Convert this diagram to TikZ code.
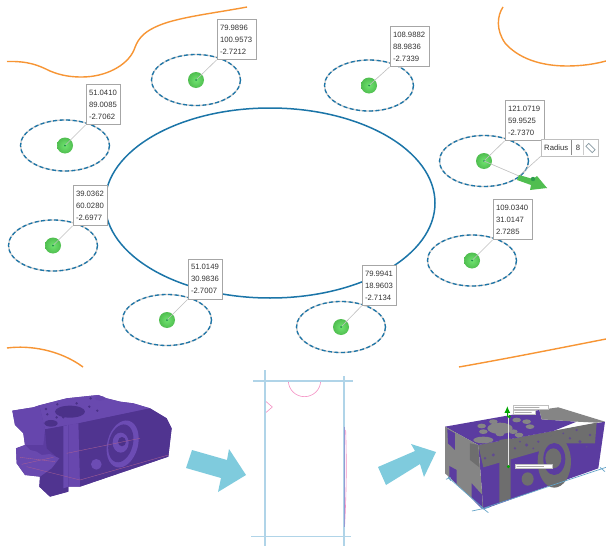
\documentclass[tikz,border=0pt]{standalone}
\usepackage{fontspec}
\setmainfont{Liberation Sans}
\usetikzlibrary{arrows.meta}
\definecolor{ringblue}{HTML}{1B75A8}
\definecolor{orangeline}{HTML}{F79534}
\definecolor{teal}{HTML}{7FCBDD}
\definecolor{guide}{HTML}{B0D4E8}
\definecolor{pinkline}{HTML}{F590C4}
\definecolor{pur}{HTML}{5B3CA0}
\definecolor{purl}{HTML}{7453BC}
\definecolor{purd}{HTML}{4B3189}
\definecolor{gmesh}{HTML}{6E6E6E}
\definecolor{gmeshl}{HTML}{858585}
\definecolor{ballin}{HTML}{70E470}
\definecolor{ballout}{HTML}{50BE50}
\definecolor{ballmid}{HTML}{1E8E4A}
\tikzset{
 x=1pt,y=-1pt,
 ring/.style={draw=ringblue,line width=1.5pt},
 dashring/.style={draw=ringblue,line width=1.3pt,dash pattern=on 4pt off 2.5pt},
 dashback/.style={draw=black!20,line width=1.3pt},
 orangecurve/.style={draw=orangeline,line width=1.4pt},
 coord/.style={draw=black!35,fill=white,line width=.8pt,align=left,text width=#1,font=\fontsize{7.7}{12}\selectfont,inner xsep=3pt,inner ysep=2pt,minimum height=40pt,text=black!80},
 lead/.style={draw=black!25,line width=.6pt},
 sphere/.style={circle,minimum size=16pt,inner sep=0pt,shade,inner color=ballin,outer color=ballout},
 bigarrow/.style={fill=teal,draw=none},
 guideline/.style={draw=guide,line width=1.2pt},
 pinkl/.style={draw=pinkline,line width=.6pt},
}
\begin{document}
\begin{tikzpicture}
\useasboundingbox (0,0) rectangle (606,546);
\fill[white] (0,0) rectangle (606,546);
% orange curves
\draw[orangecurve] (7,61.5) .. controls (28,61) and (38,65) .. (50,71) .. controls (62,76) and (72,77) .. (82,77) .. controls (105,77) and (127,66) .. (134,50) .. controls (137,42) and (140,33) .. (160,25) .. controls (180,17) and (215,13) .. (247,7);
\draw[orangecurve] (503,7) .. controls (497,16) and (496,30) .. (505,43) .. controls (518,58) and (540,66) .. (567,66) .. controls (582,66) and (595,64) .. (606,61);
\draw[orangecurve] (7,348) .. controls (30,345) and (60,350) .. (83,367);
\draw[orangecurve] (459,367) .. controls (510,358) and (560,348) .. (606,339);
% big ellipse
\draw[ring] (270,203) ellipse [x radius=165,y radius=95];
% rings
\foreach \cx/\cy in {65/145.5,196/80,369/85.5,484/161,472/260.5,341/327,167/320,53/245.5}{
  \draw[dashback] (\cx,\cy) ellipse [x radius=44.5,y radius=25.5];
  \draw[dashring] (\cx,\cy) ellipse [x radius=44.5,y radius=25.5];
}
% labels
\node[coord=28pt] (l1) at (103,104.5) {51.0410\\89.0085\\-2.7062};
\node[coord=33pt] (l2) at (236.5,39.5) {79.9896\\100.9573\\-2.7212};
\node[coord=33pt] (l3) at (409.5,46.5) {108.9882\\88.9836\\-2.7339};
\node[coord=33pt] (l4) at (524.5,120.5) {121.0719\\59.9525\\-2.7370};
\node[coord=33pt] (l5) at (512.5,219.5) {109.0340\\31.0147\\2.7285};
\node[coord=28pt] (l6) at (379,285.5) {79.9941\\18.9603\\-2.7134};
\node[coord=28pt] (l7) at (205,279) {51.0149\\30.9836\\-2.7007};
\node[coord=28pt] (l8) at (90,205.5) {39.0362\\60.0280\\-2.6977};
% spheres
\coordinate (tip) at (547,188);
\node[sphere] (s1) at (65,145.5) {};
\node[sphere] (s2) at (196,80) {};
\node[sphere] (s3) at (369,85.5) {};
\node[sphere] (s4) at (484,161) {};
\node[sphere] (s5) at (472,260.5) {};
\node[sphere] (s6) at (341,327) {};
\node[sphere] (s7) at (167,320) {};
\node[sphere] (s8) at (53,245.5) {};
\foreach \i in {1,...,8}{\draw[lead] (s\i.center) -- (l\i.south west);
 \fill[ballmid] (s\i.center) circle (1pt);}
\draw[lead] (s4.center) -- (tip);
% arrow handle
\fill[ballout] (519,175) -- (533,179) -- (537,176) -- (547,188) -- (530,190) -- (531,185) -- (517,180) -- cycle;
\fill[ballmid!70!ballout] (533,179) circle (2.2);
% radius box
\node[draw=black!25,fill=white,line width=.6pt,minimum height=17pt,minimum width=57pt,inner sep=0pt] (rad) at (569.5,147.5) {};
\node[font=\fontsize{7.7}{9}\selectfont,text=black!80,anchor=west,inner sep=0pt] (radt) at (544,147.5) {Radius};
\node[font=\fontsize{7.7}{9}\selectfont,text=black!80,inner sep=0pt] (radv) at (578,147.5) {8};
\draw[black!45,line width=.8pt] (571,140) -- (571,155);
\draw[black!20,line width=.5pt] (583,140) -- (583,155);
\draw[guide!60!black!80,line width=.7pt,rotate around={-45:(590.5,148)}] (586,146) rectangle (595,150);
\draw[lead] (rad.south west) -- (520,175);
% big teal arrows
\fill[bigarrow] (192,450) -- (227,460) -- (229,449) -- (246,475) -- (218,492) -- (221,478) -- (186,468) -- cycle;
\fill[bigarrow] (378,467) -- (415,451) -- (411,444) -- (436,452) -- (424,477) -- (420,464) -- (386,485) -- cycle;
% part: left block
\begin{scope}[shift={(0,370)},x=.3333pt,y=-.3333pt]
\fill[pur] (37,122) -- (100,112) -- (118,106) -- (200,85) -- (295,75) -- (320,85) -- (360,95) -- (400,100) -- (450,115) -- (500,145) -- (515,175) -- (505,260) -- (240,350) -- (205,350) -- (205,365) -- (150,380) -- (118,350) -- (120,320) -- (75,315) -- (50,280) -- (48,235) -- (75,225) -- (70,190) -- (45,165) -- cycle;
% top face
\fill[purl!55!pur] (118,106) -- (200,85) -- (295,75) -- (320,85) -- (360,95) -- (400,100) -- (450,115) -- (235,160) -- (135,178) -- cycle;
\fill[purl!45!pur] (37,122) -- (100,112) -- (118,106) -- (135,178) -- (130,225) -- (75,225) -- (70,190) -- (45,165) -- cycle;
% front face
\fill[purd!70!pur] (235,160) -- (450,115) -- (500,145) -- (515,175) -- (505,260) -- (240,350) -- cycle;
% column
\fill[purl!50!pur] (205,165) -- (235,160) -- (240,350) -- (205,350) -- cycle;
% left front
\fill[purd!70!pur] (135,178) -- (190,168) -- (205,165) -- (205,365) -- (150,380) -- (118,350) -- (120,320) -- (175,265) -- (140,235) -- cycle;
\fill[purl!60!pur] (190,168) -- (205,165) -- (205,350) -- (190,355) -- cycle;
% left teeth
\fill[purl!55!pur] (48,235) -- (75,225) -- (90,240) -- (110,245) -- (125,255) -- (150,252) -- (178,265) -- (155,295) -- (120,320) -- (75,315) -- (50,280) -- cycle;
% holes
\fill[purd] (210,125) ellipse [x radius=45,y radius=18];
\foreach \a/\b in {138/117,230/100,272/85,172/103,292/122,268/110,245/127,142/133,170/142,190/142}{\fill[purd] (\a,\b) circle (4);}
\fill[purd] (153,160) ellipse [x radius=20,y radius=10];
\fill[purl!40!pur] (300,85) ellipse [x radius=15,y radius=7];
% ring on the side
\fill[purl!70!pur,rotate around={-15:(368,222)}] (368,222) ellipse [x radius=46,y radius=72];
\fill[purd!70!pur,rotate around={-15:(362,222)}] (362,220) ellipse [x radius=36,y radius=58];
\fill[purl!70!pur] (362,218) ellipse [x radius=24,y radius=30];
\fill[purd] (366,215) ellipse [x radius=12,y radius=14];
\fill[purl!70!pur] (289,283) circle (16);
\draw[pur!70!red!75,line width=.35pt] (65,283) -- (160,262) (80,290) -- (240,330) -- (505,255) (200,250) -- (420,205) (60,262) -- (165,275);
\end{scope}
% guides
\begin{scope}[shift={(230,360)},x=.3333pt,y=-.3333pt]
\draw[pinkl] (107,62) -- (175,62) arc (180:0:48.5 and 48) -- (272,62);
\draw[pinkl] (105,62) -- (105,122) -- (127,141) -- (105,160);
\draw[pinkl] (347,210) .. controls (350,300) and (350,400) .. (342,530);
\draw[guideline] (105,30) -- (105,558);
\draw[guideline] (342,48) -- (342,558);
\draw[guideline] (70,63) -- (368,63);
\draw[guideline] (64,530) -- (364,530);
\draw[purl!45!guide,line width=.6pt] (343,200) -- (343,500);
\end{scope}
% right block
\begin{scope}[shift={(420,380)},x=.3333pt,y=-.3333pt]
\fill[pur] (175,195) -- (555,125) -- (535,265) -- (190,388) -- cycle;
% mottled strip on the front
\fill[gmesh] (175,195) -- (530,128) -- (525,190) -- (440,190) -- (300,230) -- (190,262) -- cycle;
\foreach \a/\b/\r in {285/205/4,320/195/5,355/185/4,300/185/3,262/215/4,220/225/5,450/175/4,480/185/5,510/165/4,470/150/4,195/235/4,430/160/3,500/200/3,340/205/3,245/200/3,395/170/3}{\fill[pur!70!gmesh] (\a,\b) circle (\r);}
% top face
\fill[pur] (75,140) -- (358,90) -- (365,118) -- (470,125) -- (400,153) -- (175,195) -- cycle;
\fill[gmeshl] (358,90) -- (415,82) -- (555,125) -- (530,128) -- (470,125) -- (365,118) -- cycle;
% left face
\fill[gmeshl] (75,140) -- (175,195) -- (190,388) -- (75,280) -- cycle;
\fill[pur] (82,147) -- (105,160) -- (105,210) -- (84,190) -- cycle;
\fill[pur] (88,258) -- (110,270) -- (110,312) -- (88,290) -- cycle;
\fill[pur] (155,310) -- (187,345) -- (187,388) -- (155,355) -- cycle;
\fill[gmesh] (150,190) -- (175,195) -- (178,262) -- (150,240) -- cycle;
% column and ring on front
\fill[gmesh] (238,180) -- (272,175) -- (272,355) -- (238,368) -- cycle;
\fill[gmesh] (403,245) ellipse [x radius=50,y radius=78];
\fill[pur] (403,237) ellipse [x radius=33,y radius=48];
\fill[gmesh] (400,235) ellipse [x radius=24,y radius=30];
\fill[gmesh] (323,297) ellipse [x radius=18,y radius=20];
% top holes
\fill[gmeshl] (240,145) ellipse [x radius=38,y radius=17];
\fill[gmeshl] (190,180) ellipse [x radius=30,y radius=10];
\foreach \a/\b in {185/138,220/125,190/155,290/120,320/125,330/140,297/165,240/162,280/155}{\fill[gmeshl] (\a,\b) ellipse [x radius=13,y radius=7];}
% gizmo
\draw[white!80!gray,line width=.7pt] (265,90) -- (265,262);
\fill[green!65!black] (268,110) circle (5);
\fill[green!65!black] (265,260) circle (5);
\draw[green!65!black,line width=1.2pt,-{Latex[length=7pt,width=6pt]}] (262,110) -- (262,78);
\node[draw=black!25,fill=white,inner sep=0pt,minimum width=35pt,minimum height=4pt] (g1) at (333,83) {};
\node[draw=black!25,fill=white,inner sep=0pt,minimum width=22pt,minimum height=4pt] (g2) at (314,98) {};
\node[draw=black!25,fill=white,inner sep=0pt,minimum width=37pt,minimum height=4pt] (g3) at (342,260) {};
\fill[black!50] (284,82) rectangle (358,84) (284,97) rectangle (335,99) (290,259) rectangle (372,261);
\draw[guide!50!ringblue,line width=.7pt] (78,298) -- (92,292) (84,290) -- (92,302) (156,393) -- (208,382) (180,378) -- (205,398) (88,295) -- (190,385) (535,270) -- (558,262) (540,262) -- (555,275) (190,385) -- (540,268);
\end{scope}
\end{tikzpicture}
\end{document}
